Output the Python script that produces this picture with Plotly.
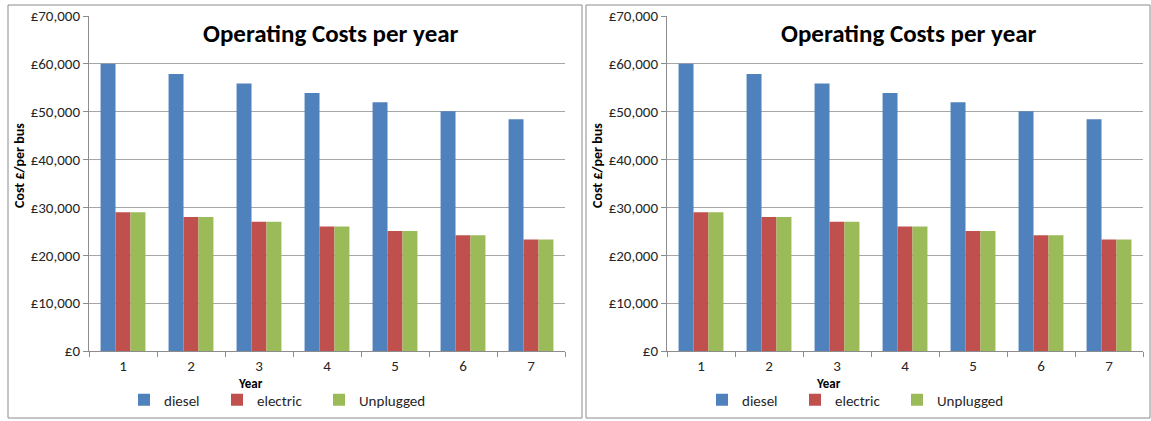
import plotly.graph_objects as go

# Annual operating cost per bus over a seven-year period
years = ["1", "2", "3", "4", "5", "6", "7"]
diesel = [60000, 57900, 55900, 53900, 52000, 50100, 48400]
electric = [29000, 28000, 27000, 26000, 25100, 24200, 23300]
unplugged = [29000, 28000, 27000, 26000, 25100, 24200, 23300]

series = [
    ("diesel", diesel, "#4F81BD"),
    ("electric", electric, "#C0504D"),
    ("Unplugged", unplugged, "#9BBB59"),
]
y_ticks = [0, 10000, 20000, 30000, 40000, 50000, 60000, 70000]
y_tick_text = ["£0", "£10,000", "£20,000", "£30,000", "£40,000",
               "£50,000", "£60,000", "£70,000"]

W, H = 1151, 421
FONT = "Carlito, Lato, 'Open Sans', sans-serif"

# left edge (px) of each legend entry within a panel
legend_left = [124, 217, 319]

fig = go.Figure()

# two identical panels side by side
panels = [
    dict(xa="x", ya="y", dom=(89, 565), frame=(8, 582), off=0),
    dict(xa="x2", ya="y2", dom=(667, 1143), frame=(586, 1150), off=578),
]

layout = dict(
    width=W, height=H,
    margin=dict(l=0, r=0, t=0, b=0, autoexpand=False),
    paper_bgcolor="white", plot_bgcolor="white",
    barmode="group", bargap=0.34, bargroupgap=0,
    font=dict(family=FONT, color="#000000"),
    showlegend=True,
    shapes=[], annotations=[],
)

legend_idx = 0
for p in panels:
    for k, (name, vals, col) in enumerate(series):
        legend_idx += 1
        lid = "legend" if legend_idx == 1 else f"legend{legend_idx}"
        fig.add_trace(go.Bar(
            x=years, y=vals, name=name,
            marker=dict(color=col, line=dict(width=0)),
            xaxis=p["xa"], yaxis=p["ya"], legend=lid,
        ))
        layout[lid] = dict(
            orientation="h", x=(legend_left[k] + p["off"]) / W, y=(H - 400) / H,
            xanchor="left", yanchor="middle", bgcolor="rgba(0,0,0,0)",
            font=dict(family=FONT, size=15, color="#262626"),
        )

ybot = (H - 351) / H
ytop = (H - 16) / H

axis_common_x = dict(
    type="category", tickson="boundaries", ticks="outside", ticklen=5,
    tickcolor="#8c8c8c", showline=True, linecolor="#8c8c8c", linewidth=1,
    showgrid=False, tickfont=dict(family=FONT, size=15, color="#262626"),
    ticklabelstandoff=1, fixedrange=True,
)
axis_common_y = dict(
    range=[0, 70000], tickvals=y_ticks, ticktext=y_tick_text,
    ticks="outside", ticklen=5, tickcolor="#8c8c8c", showline=True,
    linecolor="#8c8c8c", linewidth=1, showgrid=True, gridcolor="#a6a6a6",
    gridwidth=1, zeroline=False,
    tickfont=dict(family=FONT, size=15, color="#262626"),
    fixedrange=True,
)

for i, p in enumerate(panels):
    sfx = "" if i == 0 else "2"
    layout["xaxis" + sfx] = dict(axis_common_x, domain=[p["dom"][0] / W, p["dom"][1] / W],
                                 anchor="y" + sfx)
    layout["yaxis" + sfx] = dict(axis_common_y, domain=[ybot, ytop], anchor="x" + sfx)
    # chart frame
    layout["shapes"].append(dict(
        type="rect", xref="paper", yref="paper",
        x0=p["frame"][0] / W, x1=p["frame"][1] / W,
        y0=(H - 418) / H, y1=(H - 5) / H,
        line=dict(color="#8c8c8c", width=1), fillcolor="rgba(0,0,0,0)", layer="below",
    ))
    off = p["off"]
    # title
    layout["annotations"].append(dict(
        text="<b>Operating Costs per year</b>", xref="paper", yref="paper",
        x=(331 + off) / W, y=(H - 33) / H, xanchor="center", yanchor="middle",
        showarrow=False, font=dict(family=FONT, size=25, color="#000000"),
    ))
    # y-axis title
    layout["annotations"].append(dict(
        text="<b>Cost £/per bus</b>", xref="paper", yref="paper",
        x=(19 + off) / W, y=(H - 166) / H, xanchor="center", yanchor="middle",
        textangle=-90, showarrow=False,
        font=dict(family=FONT, size=14, color="#000000"),
    ))
    # x-axis title
    layout["annotations"].append(dict(
        text="<b>Year</b>", xref="paper", yref="paper",
        x=(250 + off) / W, y=(H - 383) / H, xanchor="center", yanchor="middle",
        showarrow=False, font=dict(family=FONT, size=13, color="#000000"),
    ))

fig.update_layout(**layout)
fig.write_html("out.html")
